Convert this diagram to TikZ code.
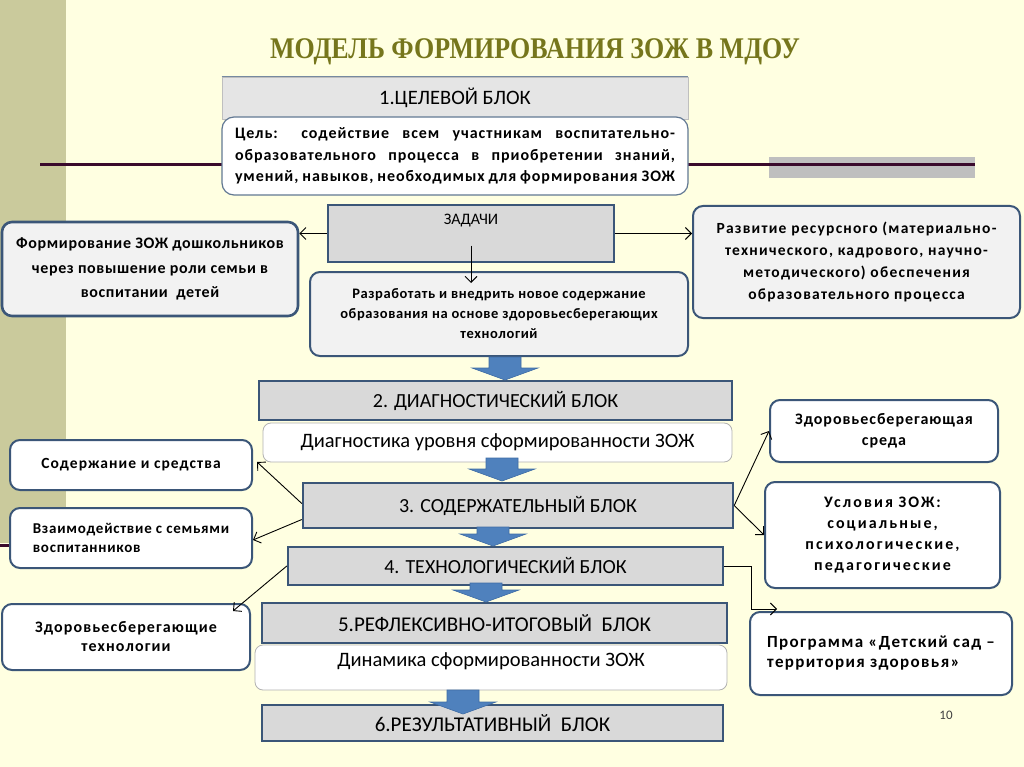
\documentclass[tikz,border=0pt]{standalone}
\usepackage{fontspec}
\usepackage{graphicx}
\setmainfont{Carlito}
\newfontfamily\titlefont{Liberation Serif}
\newfontfamily\lsA[LetterSpace=4]{Carlito}
\newfontfamily\lsB[LetterSpace=5]{Carlito}
\newfontfamily\lsC[LetterSpace=7]{Carlito}
\newfontfamily\lsD[LetterSpace=8]{Carlito}
\newfontfamily\lsE[LetterSpace=13]{Carlito}
\newfontfamily\lsF[LetterSpace=6]{Carlito}
\usetikzlibrary{arrows.meta}
\definecolor{bgc}{HTML}{FFFFE1}
\definecolor{barc}{HTML}{CACA9C}
\definecolor{linec}{HTML}{3A0A2C}
\definecolor{grayr}{HTML}{BFBFBF}
\definecolor{titlec}{HTML}{76761C}
\definecolor{blkfill}{HTML}{D9D9D9}
\definecolor{edgec}{HTML}{3B5678}
\definecolor{softfill}{HTML}{F2F2F2}
\definecolor{arrfill}{HTML}{4F81BD}
\definecolor{arrdraw}{HTML}{3E6CA5}
\tikzset{
  blk/.style={draw=edgec, line width=2.4pt, fill=blkfill, inner sep=0pt, font=\fontsize{20}{23}\selectfont},
  rbox/.style={draw=edgec, line width=2pt, rounded corners=10pt, fill=softfill, inner sep=0pt, align=center},
  wbox/.style={draw=edgec, line width=2pt, rounded corners=10pt, fill=white, inner sep=0pt, align=center},
  thinbox/.style={draw=black!30, line width=0.8pt, rounded corners=8pt, fill=white, inner sep=0pt},
  conn/.style={draw=black, line width=0.9pt, -{Straight Barb[length=6pt,width=12pt]}},
}
\newcommand\fatdown[3]{% center x, top y, tip y
  \filldraw[fill=arrfill, draw=arrdraw, line width=0.6pt]
    (#1-16,#2) -- (#1+16,#2) -- (#1+16,#3-12) -- (#1+33,#3-12) -- (#1,#3)
    -- (#1-33,#3-12) -- (#1-16,#3-12) -- cycle;}
\begin{document}
\begin{tikzpicture}[x=1pt,y=-1pt]
\useasboundingbox (0,0) rectangle (1024,767);
% background
\fill[bgc] (0,0) rectangle (1024,767);
\fill[barc] (0,0) rectangle (66,543);
\fill[grayr] (769,157) rectangle (975,178);
\draw[linec, line width=3pt] (40,165) -- (975,165);
\draw[linec, line width=3pt] (0,545) -- (14,545);
% title
\node[font=\titlefont\bfseries\fontsize{30}{34}\selectfont, text=titlec] (title) at (535,52)
  {\scalebox{0.866}[1]{МОДЕЛЬ ФОРМИРОВАНИЯ ЗОЖ В МДОУ}};
% block 1
\node[draw=black!25, line width=0.6pt, fill=black!10, minimum width=466pt, minimum height=42pt,
  font=\fontsize{20.5}{23}\selectfont] (b1) at (455,98) {1.ЦЕЛЕВОЙ БЛОК};
\draw[edgec!70, line width=0.8pt] (b1.north west) -- (b1.north east);
\node[thinbox, draw=edgec!80, line width=1.2pt, rounded corners=12pt, minimum width=466pt, minimum height=78pt,
  font=\lsF\bfseries\fontsize{16}{21.5}\selectfont, align=left] (goal) at (455,156)
  {\makebox[440pt][s]{Цель: содействие всем участникам воспитательно-}\\
   \makebox[440pt][s]{образовательного процесса в приобретении знаний,}\\
   \makebox[440pt][s]{умений, навыков, необходимых для формирования ЗОЖ}};
% tasks
\node[blk, line width=2.6pt, minimum width=286pt, minimum height=57pt,
  label={[anchor=north, yshift=-7pt, font=\fontsize{16}{18}\selectfont]north:ЗАДАЧИ}] (tasks) at (471,233.5) {};
\node[rbox, line width=2.6pt, minimum width=296pt, minimum height=94pt,
  font=\lsA\bfseries\fontsize{16}{24.5}\selectfont] (L1) at (150,269)
  {Формирование ЗОЖ дошкольников\\через повышение роли семьи в\\воспитании \ детей};
\node[rbox, minimum width=327pt, minimum height=112pt,
  font=\lsD\bfseries\fontsize{15.5}{21.7}\selectfont] (R1) at (856.5,262)
  {Развитие ресурсного (материально-\\технического, кадрового, научно-\\методического) обеспечения\\образовательного процесса};
\node[rbox, minimum width=378pt, minimum height=84pt,
  font=\lsA\bfseries\fontsize{14.5}{20}\selectfont] (M) at (499,314)
  {Разработать и внедрить новое содержание\\образования на основе здоровьесберегающих\\технологий};
% main column
\node[blk, minimum width=473pt, minimum height=39pt] (b2) at (495.5,400.5) {2. ДИАГНОСТИЧЕСКИЙ БЛОК};
\node[thinbox, minimum width=469pt, minimum height=39pt, font=\fontsize{20.5}{23}\selectfont] (diag) at (497.5,442.5)
  {Диагностика уровня сформированности ЗОЖ};
\node[blk, minimum width=430pt, minimum height=45pt] (b3) at (518,505.5) {3. СОДЕРЖАТЕЛЬНЫЙ БЛОК};
\node[blk, minimum width=435pt, minimum height=38pt] (b4) at (505.5,566) {4. ТЕХНОЛОГИЧЕСКИЙ БЛОК};
\node[blk, minimum width=465pt, minimum height=40pt, font=\fontsize{21}{23}\selectfont] (b5) at (494.5,623) {5.РЕФЛЕКСИВНО-ИТОГОВЫЙ \ БЛОК};
\node[thinbox, minimum width=472pt, minimum height=45pt] (dyn) at (491,667.5) {};
\node[font=\fontsize{20.5}{23}\selectfont] (dynt) at (491,661) {Динамика сформированности ЗОЖ};
\node[blk, minimum width=461pt, minimum height=36pt, font=\fontsize{21}{23}\selectfont] (b6) at (492.5,723) {6.РЕЗУЛЬТАТИВНЫЙ \ БЛОК};
% left boxes
\node[wbox, minimum width=242pt, minimum height=50pt,
  font=\lsC\bfseries\fontsize{15.5}{19}\selectfont] (Ls1) at (131,465) {Содержание и средства};
\node[wbox, minimum width=242pt, minimum height=60pt, align=left,
  font=\lsB\bfseries\fontsize{15}{19}\selectfont] (Ls2) at (131,538)
  {Взаимодействие с семьями\\воспитанников};
\node[wbox, minimum width=248pt, minimum height=66pt,
  font=\lsC\bfseries\fontsize{16}{19}\selectfont] (Ls3) at (126,637) {Здоровьесберегающие\\технологии};
% right boxes
\node[wbox, minimum width=228pt, minimum height=62pt,
  font=\lsF\bfseries\fontsize{16}{21}\selectfont] (Rs1) at (884,431) {Здоровьесберегающая\\среда};
\node[wbox, minimum width=235pt, minimum height=106pt,
  font=\lsE\bfseries\fontsize{16}{21}\selectfont] (Rs2) at (882.5,535)
  {Условия ЗОЖ:\\социальные,\\психологические,\\педагогические};
\node[wbox, minimum width=262pt, minimum height=83pt, align=left,
  font=\lsD\bfseries\fontsize{17}{20}\selectfont] (Rs3) at (881,653.5)
  {Программа «Детский сад –\\территория здоровья»};
% fat arrows
\fatdown{505}{357}{380}
\fatdown{502}{458}{481}
\fatdown{493}{527}{546}
\fatdown{486}{583}{602}
\fatdown{463}{690}{714}
% connectors
\draw[conn] (tasks.west) -- (L1.east |- tasks.west);
\draw[conn] (tasks.east) -- (R1.west |- tasks.east);
\draw[conn] ([yshift=-12pt]tasks.center) -- ([yshift=-12pt]tasks.center |- M.north);
\draw[conn] ([yshift=2pt]b3.west) -- ([xshift=4pt,yshift=3pt]Ls1.east);
\draw[conn] ([yshift=-14pt]b3.west) -- ([yshift=-2pt]Ls2.east);
\draw[conn] (b4.west) -- ([xshift=-18pt,yshift=-8pt]Ls3.north east);
\draw[conn] (b3.east) -- (Rs1.west);
\draw[conn] (b3.east) -- (Rs2.west);
\draw[conn] (b4.east) -- ++(27,0) |- ([xshift=28pt,yshift=2pt]Rs3.north west);
% page number
\node[font=\fontsize{13}{15}\selectfont, text=black!75] (pnum) at (946,715) {10};
\end{tikzpicture}
\end{document}
